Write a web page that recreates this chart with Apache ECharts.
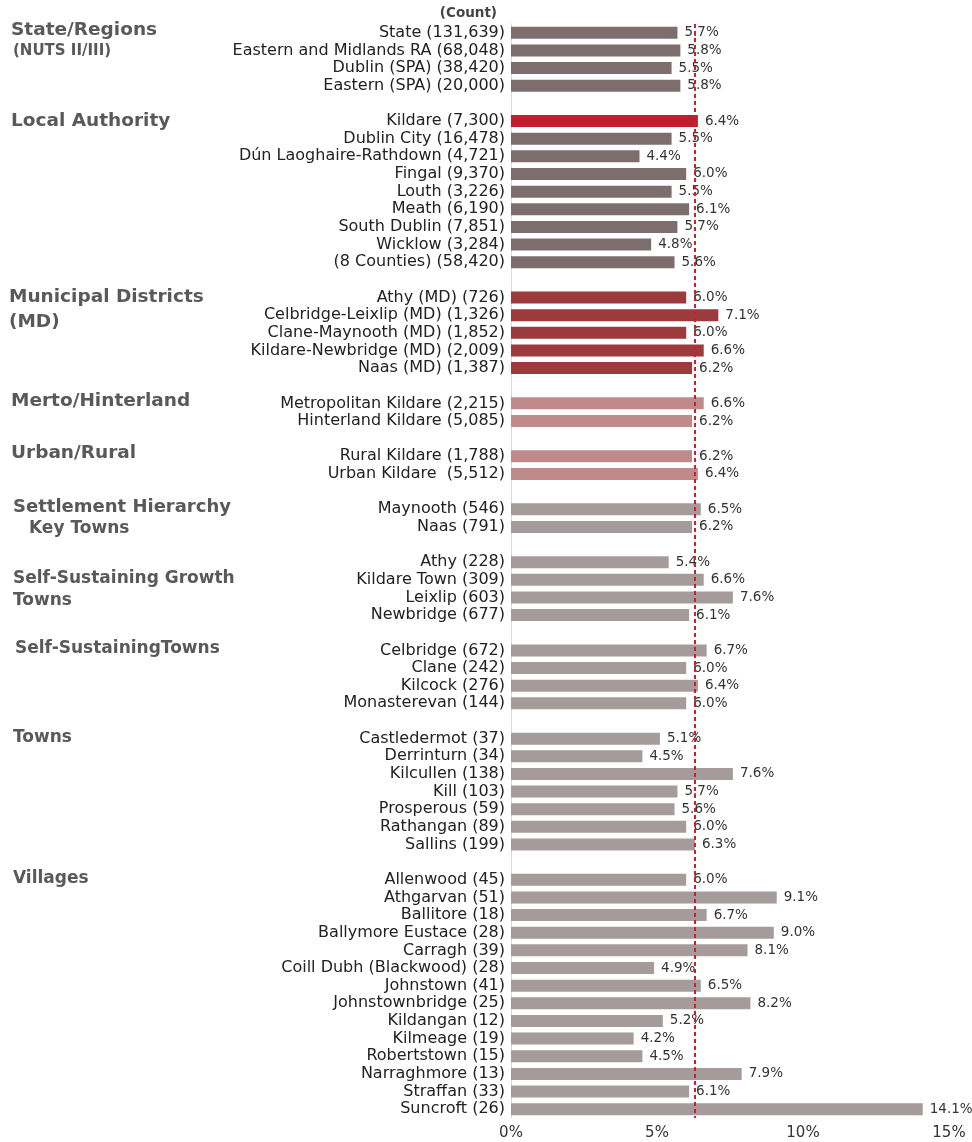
<!DOCTYPE html>
<html><head><meta charset="utf-8">
<script src="https://cdn.jsdelivr.net/npm/echarts@6/dist/echarts.min.js"></script>
<style>html,body{margin:0;padding:0;background:#fff}#c{width:972px;height:1142px}</style>
</head><body><div id="c"></div>
<script>
// Group names (for colours), categories and values, top to bottom
const stateCats = ['State (131,639)','Eastern and Midlands RA (68,048)','Dublin (SPA) (38,420)','Eastern (SPA) (20,000)'];
const stateVals = [5.7,5.8,5.5,5.8];
const laCats = ['Kildare (7,300)','Dublin City (16,478)','Dún Laoghaire-Rathdown (4,721)','Fingal (9,370)','Louth (3,226)','Meath (6,190)','South Dublin (7,851)','Wicklow (3,284)','(8 Counties) (58,420)'];
const laVals = [6.4,5.5,4.4,6.0,5.5,6.1,5.7,4.8,5.6];
const mdCats = ['Athy (MD) (726)','Celbridge-Leixlip (MD) (1,326)','Clane-Maynooth (MD) (1,852)','Kildare-Newbridge (MD) (2,009)','Naas (MD) (1,387)'];
const mdVals = [6.0,7.1,6.0,6.6,6.2];
const metroCats = ['Metropolitan Kildare (2,215)','Hinterland Kildare (5,085)'];
const metroVals = [6.6,6.2];
const urCats = ['Rural Kildare (1,788)','Urban Kildare  (5,512)'];
const urVals = [6.2,6.4];
const keyCats = ['Maynooth (546)','Naas (791)'];
const keyVals = [6.5,6.2];
const ssgtCats = ['Athy (228)','Kildare Town (309)','Leixlip (603)','Newbridge (677)'];
const ssgtVals = [5.4,6.6,7.6,6.1];
const sstCats = ['Celbridge (672)','Clane (242)','Kilcock (276)','Monasterevan (144)'];
const sstVals = [6.7,6.0,6.4,6.0];
const townCats = ['Castledermot (37)','Derrinturn (34)','Kilcullen (138)','Kill (103)','Prosperous (59)','Rathangan (89)','Sallins (199)'];
const townVals = [5.1,4.5,7.6,5.7,5.6,6.0,6.3];
const villageCats = ['Allenwood (45)','Athgarvan (51)','Ballitore (18)','Ballymore Eustace (28)','Carragh (39)','Coill Dubh (Blackwood) (28)','Johnstown (41)','Johnstownbridge (25)','Kildangan (12)','Kilmeage (19)','Robertstown (15)','Narraghmore (13)','Straffan (33)','Suncroft (26)'];
const villageVals = [6.0,9.1,6.7,9.0,8.1,4.9,6.5,8.2,5.2,4.2,4.5,7.9,6.1,14.1];
const referenceLine = 6.3;

const groups = [
  {cats: stateCats, vals: stateVals, color: '#7e6d6d'},
  {cats: laCats, vals: laVals, color: '#7e6d6d', first: '#be1e2d'},
  {cats: mdCats, vals: mdVals, color: '#9c3a3e'},
  {cats: metroCats, vals: metroVals, color: '#c08a8b'},
  {cats: urCats, vals: urVals, color: '#c08a8b'},
  {cats: keyCats, vals: keyVals, color: '#a69b9b'},
  {cats: ssgtCats, vals: ssgtVals, color: '#a69b9b'},
  {cats: sstCats, vals: sstVals, color: '#a69b9b'},
  {cats: townCats, vals: townVals, color: '#a69b9b'},
  {cats: villageCats, vals: villageVals, color: '#a69b9b'}
];
const categories = [], data = [];
groups.forEach((g, gi) => {
  if (gi > 0) { categories.push('__gap' + gi); data.push(null); }
  g.cats.forEach((c, i) => {
    categories.push(c);
    data.push({value: g.vals[i], itemStyle: {color: (i === 0 && g.first) ? g.first : g.color}});
  });
});

const FONT = 'DejaVu Sans';
const headStyle = (size) => ({fill: '#595959', font: 'bold ' + size + 'px "' + FONT + '"'});
const headings = [
  ['State/Regions', 11, 30, 18.5], ['(NUTS II/III)', 13, 51, 15],
  ['Local Authority', 11, 121, 18.5],
  ['Municipal Districts', 9, 297, 18.5], ['(MD)', 9, 322, 18.5],
  ['Merto/Hinterland', 11, 401, 18.5],
  ['Urban/Rural', 11, 453, 18.5],
  ['Settlement Hierarchy', 13, 507, 18], ['Key Towns', 29, 529, 17],
  ['Self-Sustaining Growth', 13, 579, 17], ['Towns', 13, 601, 17],
  ['Self-SustainingTowns', 15, 649, 17],
  ['Towns', 13, 738, 17],
  ['Villages', 13, 879, 17]
];

const chart = echarts.init(document.getElementById('c'));
chart.setOption({
  animation: false,
  grid: {left: 511, right: 23, top: 24, bottom: 24, containLabel: false},
  xAxis: {
    type: 'value', min: 0, max: 15, interval: 5,
    axisLine: {show: false}, axisTick: {show: false}, splitLine: {show: false},
    axisLabel: {formatter: '{value}%', color: '#333', fontSize: 15, fontFamily: FONT, margin: 8}
  },
  yAxis: {
    type: 'category', inverse: true, data: categories,
    axisLine: {show: true, lineStyle: {color: '#d9d9d9', width: 1}},
    axisTick: {show: false},
    axisLabel: {interval: 0, color: '#222', fontSize: 16, fontFamily: FONT, margin: 6,
      formatter: v => v.startsWith('__gap') ? '' : v}
  },
  graphic: [
    {type: 'text', x: 497, y: 13, style: {text: '(Count)', fill: '#444', font: 'bold 13.5px "' + FONT + '"', align: 'right', verticalAlign: 'middle'}},
    ...headings.map(h => ({type: 'text', x: h[1], y: h[2], style: Object.assign({text: h[0], verticalAlign: 'middle'}, headStyle(h[3]))}))
  ],
  series: [{
    type: 'bar', data: data, barWidth: 12,
    label: {show: true, position: 'right', distance: 7, color: '#333', fontSize: 13.5, fontFamily: FONT,
      formatter: p => p.value.toFixed(1) + '%'},
    markLine: {
      symbol: 'none', silent: true, label: {show: false},
      lineStyle: {color: '#c8202f', type: [4, 3], width: 2},
      data: [{xAxis: referenceLine}]
    }
  }]
});
</script></body></html>
